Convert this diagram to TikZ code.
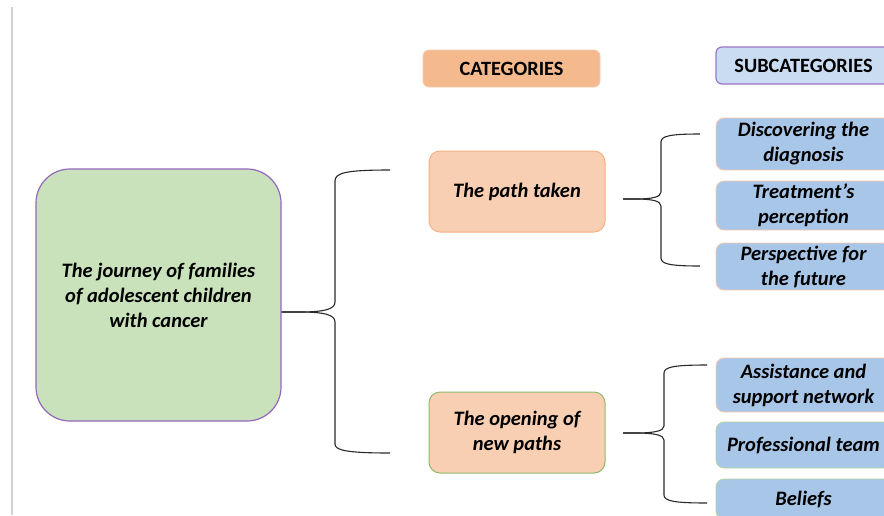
\documentclass[tikz,border=0pt]{standalone}
\usepackage{fontspec}
\setmainfont{Carlito}
\definecolor{maingreen}{HTML}{C9E2BC}
\definecolor{mainborder}{HTML}{9566BE}
\definecolor{catfill}{HTML}{F4B98C}
\definecolor{catborder}{HTML}{F8CBAD}
\definecolor{peach}{HTML}{F8CFB3}
\definecolor{peachborder}{HTML}{F4B183}
\definecolor{greenborder}{HTML}{8DBB6C}
\definecolor{subfill}{HTML}{A8C6E8}
\definecolor{subhead}{HTML}{C9DCF2}
\definecolor{subheadborder}{HTML}{9E74C8}
\definecolor{lightgreenborder}{HTML}{B5D6A0}
\definecolor{bracecol}{HTML}{2A2A2A}
\begin{document}
\begin{tikzpicture}[x=1pt,y=-1pt,
  txt/.style={font=\fontsize{20.5}{25}\selectfont\bfseries\itshape, align=center, text=black, inner sep=0pt},
  mainbox/.style={txt, draw=mainborder, fill=maingreen, line width=1.2pt, rounded corners=34pt},
  cathead/.style={draw=catborder, fill=catfill, line width=0.8pt, rounded corners=6pt,
    font=\fontsize{20.3}{22}\selectfont\bfseries, text=black, inner sep=0pt},
  subheadbox/.style={draw=subheadborder, fill=subhead, line width=1.2pt, rounded corners=6pt,
    font=\fontsize{20.3}{22}\selectfont\bfseries, text=black, inner sep=0pt},
  catbox/.style={txt, fill=peach, line width=1pt, rounded corners=11pt},
  subbox/.style={txt, fill=subfill, line width=0.8pt, rounded corners=8pt},
  brace/.style={draw=bracecol, line width=1.1pt}
]
\useasboundingbox (0,0) rectangle (884,515);
\fill[white] (0,0) rectangle (884,515);
\draw[black!18, line width=2pt] (12,7) -- (12,515);

% headers
\node[cathead, minimum width=177pt, minimum height=37pt] (cathdr) at (511.5,68.5) {CATEGORIES};
\node[subheadbox, minimum width=175pt, minimum height=37pt] (subhdr) at (803.5,65.5) {SUBCATEGORIES};

% main
\node[mainbox, minimum width=245pt, minimum height=252pt] (main) at (158.5,295)
  {The journey of families\\of adolescent children\\with cancer};

% categories
\node[catbox, draw=peachborder, minimum width=176pt, minimum height=81pt] (path) at (517,191.5) {The path taken};
\node[catbox, draw=greenborder, minimum width=176pt, minimum height=81pt] (open) at (517,432.5) {The opening of\\new paths};

% subcategories
\node[subbox, draw=catborder, minimum width=175pt, minimum height=52pt] (s1) at (803.5,144) {Discovering the\\diagnosis};
\node[subbox, draw=catborder, minimum width=175pt, minimum height=49pt] (s2) at (803.5,205.5) {Treatment’s\\perception};
\node[subbox, draw=catborder, minimum width=175pt, minimum height=47pt] (s3) at (803.5,266.5) {Perspective for\\the future};
\node[subbox, draw=catborder, minimum width=175pt, minimum height=54pt] (s4) at (803.5,385) {Assistance and\\support network};
\node[subbox, draw=lightgreenborder, minimum width=175pt, minimum height=46pt] (s5) at (803.5,445) {Professional team};
\node[subbox, draw=lightgreenborder, minimum width=175pt, minimum height=40pt] (s6) at (803.5,499) {Beliefs};

% brace coordinates
\coordinate (b0tip) at (main.east |- 0,312);
\coordinate (b0top) at (390,170);
\coordinate (b0bot) at (390,453);
\coordinate (b1tip) at (623,199);
\coordinate (b1top) at (700,134);
\coordinate (b1bot) at (700,266);
\coordinate (b2tip) at (623,433);
\coordinate (b2top) at (707,365);
\coordinate (b2bot) at (707,503);

% big brace
\draw[brace] (b0tip) -- (300,312) .. controls (325,312) and (335,309) .. (335,302) -- (335,181)
  .. controls (335,173) and (345,170) .. (b0top);
\draw[brace] (b0tip) -- (300,312) .. controls (325,312) and (335,315) .. (335,322) -- (335,444)
  .. controls (335,450) and (345,453) .. (b0bot);
% upper sub brace
\draw[brace] (b1tip) -- (636,199) .. controls (652,199) and (661,197) .. (661,192) -- (661,142)
  .. controls (661,136) and (670,134) .. (b1top);
\draw[brace] (b1tip) -- (636,199) .. controls (652,199) and (661,201) .. (661,206) -- (661,258)
  .. controls (661,264) and (670,266) .. (b1bot);
% lower sub brace
\draw[brace] (b2tip) -- (636,433) .. controls (654,433) and (664,431) .. (664,426) -- (664,373)
  .. controls (664,367) and (674,365) .. (b2top);
\draw[brace] (b2tip) -- (636,433) .. controls (654,433) and (664,435) .. (664,440) -- (664,495)
  .. controls (664,501) and (674,503) .. (b2bot);
\end{tikzpicture}
\end{document}
